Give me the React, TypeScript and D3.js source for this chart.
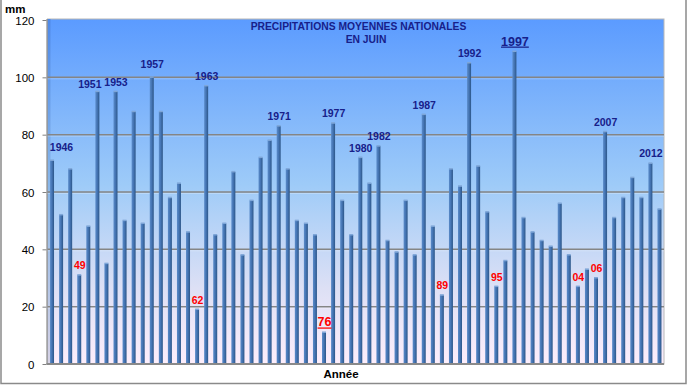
import { useEffect } from 'react';
import * as d3 from 'd3';

// Précipitations moyennes nationales en juin (mm), 1946 -> 2013
const firstYear = 1946;
const rainfall = [
    71, 52, 68, 31, 48, 95, 35, 95, 50, 88,
    49, 100, 88, 58, 63, 46, 19, 97, 45, 49,
    67, 38, 57, 72, 78, 83, 68, 50, 49, 45,
    11, 84, 57, 45, 72, 63, 76, 43, 39, 57,
    38, 87, 48, 24, 68, 62, 105, 69, 53, 27,
    36, 109, 51, 46, 43, 41, 56, 38, 27, 33,
    30, 81, 51, 58, 65, 58, 70, 54,
];
const years = rainfall.map((_, i) => firstYear + i);

const wetYears = [1946, 1951, 1953, 1957, 1963, 1971, 1977, 1980, 1982, 1987, 1992, 2007, 2012];
const wettestYear = 1997;
const dryYears = [1949, 1962, 1989, 1995, 2004, 2006];
const driestYear = 1976;

const yTicks = [0, 20, 40, 60, 80, 100, 120];
const titleLines = ['PRECIPITATIONS MOYENNES NATIONALES', 'EN JUIN'];
const yUnit = 'mm';
const xTitle = 'Année';

const W = 688;
const H = 385;
const plot = { left: 47.5, right: 664, top: 20, bottom: 364 };
const font = '"Liberation Sans", Arial, sans-serif';
const navy = '#17208a';

// small hand placement tweaks, like in the original sheet
const nudge: Record<number, [number, number]> = {
    1946: [9, -3],
    1951: [-8, 2],
    1957: [0, -3],
};

export default function App() {
    useEffect(() => {
        document.body.style.margin = '0';
    }, []);

    const x = d3.scaleBand<number>()
        .domain(years)
        .range([plot.left, plot.right])
        .paddingInner(0.56)
        .paddingOuter(0.28);

    const y = d3.scaleLinear().domain([0, 120]).range([plot.bottom, plot.top]);

    const bw = x.bandwidth();
    const valueOf = (yr: number) => rainfall[years.indexOf(yr)];
    const cx = (yr: number) => (x(yr) ?? 0) + bw / 2;

    const label = (yr: number, text: string, color: string, size: number, underline: boolean, key: string) => {
        const [dx, dy] = nudge[yr] ?? [0, 0];
        return (
            <text
                key={key}
                x={cx(yr) + dx + 0.5}
                y={y(valueOf(yr)) - 6 + dy}
                textAnchor="middle"
                fontFamily={font}
                fontWeight="bold"
                fontSize={size}
                fill={color}
                style={underline ? { textDecoration: 'underline' } : undefined}
            >
                {text}
            </text>
        );
    };

    return (
        <svg width={W} height={H} style={{ display: 'block', background: '#fff' }}>
            <defs>
                <linearGradient id="bg" x1="0" y1="0" x2="0" y2="1">
                    <stop offset="0" stopColor="#5b9bff" />
                    <stop offset="0.48" stopColor="#9ecbf8" />
                    <stop offset="0.78" stopColor="#dde0f5" />
                    <stop offset="1" stopColor="#fdeefb" />
                </linearGradient>
                <linearGradient id="wall" x1="0" y1="0" x2="0" y2="1">
                    <stop offset="0" stopColor="#4f8ae8" />
                    <stop offset="0.5" stopColor="#8ab8ea" />
                    <stop offset="1" stopColor="#d6d2e6" />
                </linearGradient>
                <linearGradient id="bar" x1="0" y1="0" x2="1" y2="0">
                    <stop offset="0" stopColor="#5a8bc9" />
                    <stop offset="0.45" stopColor="#4676b5" />
                    <stop offset="1" stopColor="#2c5688" />
                </linearGradient>
            </defs>

            {/* outer frame */}
            <rect x={1} y={-2} width={685} height={385.5} fill="none" stroke="#8a8a8a" strokeWidth={1.5} />

            {/* plot background */}
            <rect x={plot.left} y={plot.top - 1} width={plot.right - plot.left} height={plot.bottom - plot.top + 1}
                fill="url(#bg)" stroke="#b8b8b8" strokeWidth={1} />
            <rect x={plot.left} y={plot.top - 1} width={3} height={plot.bottom - plot.top + 1} fill="url(#wall)" />
            <line x1={plot.left - 0.5} x2={plot.left - 0.5} y1={plot.top - 1} y2={plot.bottom} stroke="#8a8a8a" strokeWidth={1.2} />

            {/* grid */}
            {yTicks.filter(t => t > 0 && t < 120).map(t => (
                <g key={`g${t}`}>
                    <line x1={plot.left} x2={plot.right} y1={y(t)} y2={y(t)} stroke="#858585" strokeWidth={1.5} />
                    <line x1={plot.left} x2={plot.right} y1={y(t) + 1.5} y2={y(t) + 1.5} stroke="#ffffff" strokeOpacity={0.25} strokeWidth={1} />
                </g>
            ))}

            {/* floor */}
            <line x1={plot.left - 1} x2={plot.right} y1={plot.bottom} y2={plot.bottom} stroke="#8a8a8a" strokeWidth={2} />

            {/* y axis */}
            {yTicks.map(t => (
                <g key={`t${t}`}>
                    <line x1={plot.left - 5} x2={plot.left - 1} y1={y(t) + 0.5} y2={y(t) + 0.5} stroke="#808080" strokeWidth={1} />
                    <text x={34.5} y={y(t) + 4.5} textAnchor="end" fontFamily={font} fontSize={11.5} fill="#000">{t}</text>
                </g>
            ))}
            <text x={5} y={13} fontFamily={font} fontWeight="bold" fontSize={11.5} fill="#000">{yUnit}</text>

            {/* bars */}
            {years.map((yr, i) => (
                <g key={`b${yr}`}>
                    <rect x={x(yr)} y={y(rainfall[i])} width={bw} height={plot.bottom - 1 - y(rainfall[i])} fill="url(#bar)" />
                    <rect x={x(yr)} y={y(rainfall[i]) - 1} width={bw} height={1.5} fill="#7ea6d8" />
                </g>
            ))}

            {/* title */}
            <text x={358.5} y={30} textAnchor="middle" fontFamily={font} fontWeight="bold" fontSize={10.3} fill={navy}>{titleLines[0]}</text>
            <text x={366} y={43} textAnchor="middle" fontFamily={font} fontWeight="bold" fontSize={10.3} fill={navy}>{titleLines[1]}</text>

            {/* annotations */}
            {wetYears.map(yr => label(yr, String(yr), navy, 10.5, false, `w${yr}`))}
            {label(wettestYear, String(wettestYear), navy, 12.5, true, 'wmax')}
            {dryYears.map(yr => label(yr, String(yr).slice(2), '#ff0000', 10.5, false, `d${yr}`))}
            {label(driestYear, String(driestYear).slice(2), '#ff0000', 12.5, true, 'dmin')}

            <text x={341} y={378} textAnchor="middle" fontFamily={font} fontWeight="bold" fontSize={11.5} fill="#000">{xTitle}</text>
        </svg>
    );
}
